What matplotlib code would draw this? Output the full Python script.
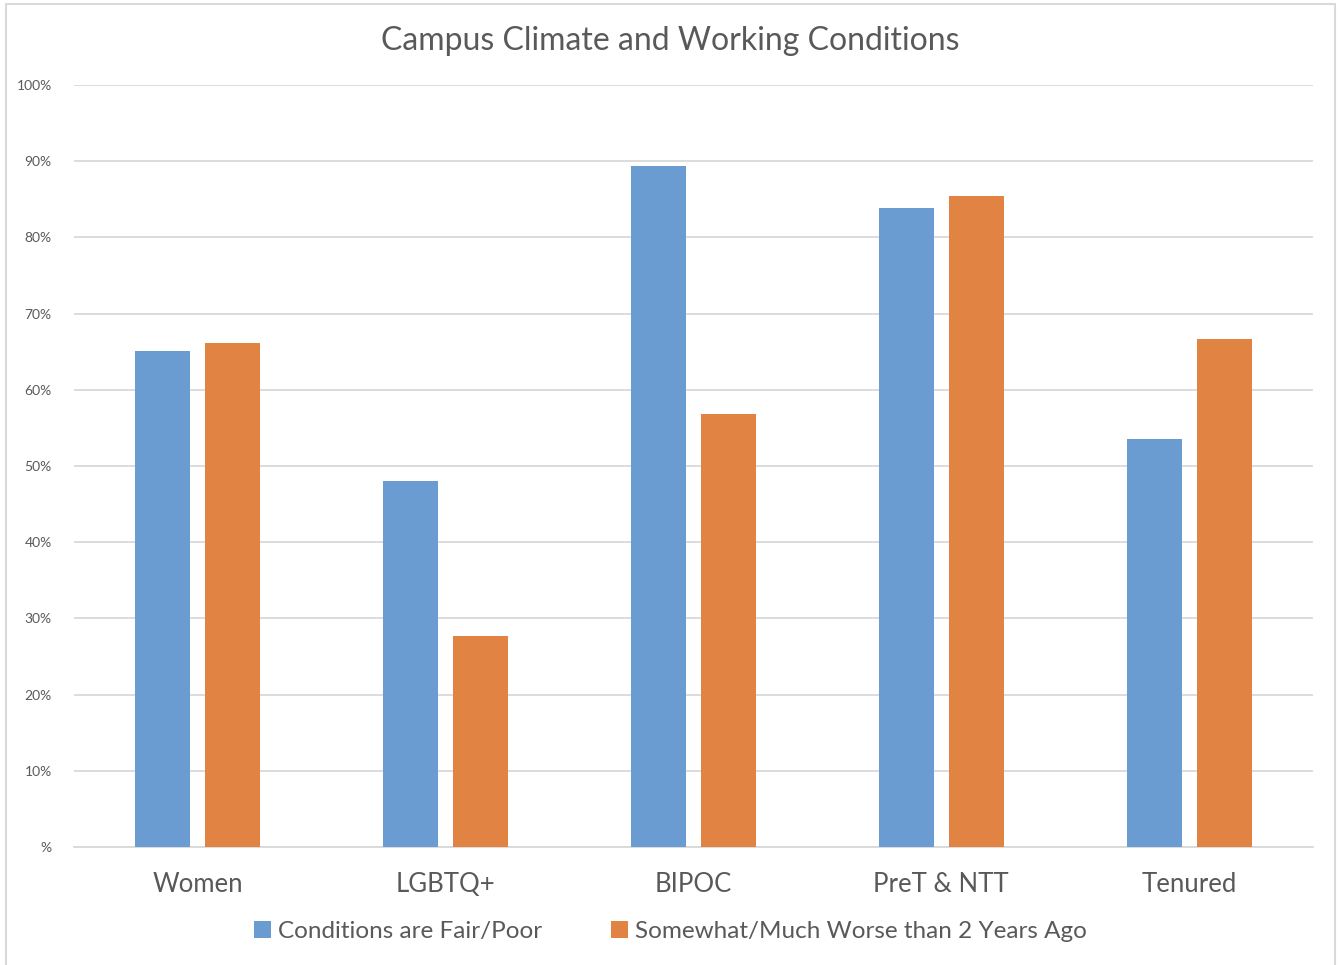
import numpy as np
import matplotlib.pyplot as plt
from matplotlib.patches import Rectangle

plt.rcParams['font.family'] = ['Lato', 'DejaVu Sans']

groups = ['Women', 'LGBTQ+', 'BIPOC', 'PreT & NTT', 'Tenured']
fair_poor = [65.1, 48.0, 89.4, 83.8, 53.5]
worse = [66.1, 27.7, 56.8, 85.4, 66.7]
series_names = ['Conditions are Fair/Poor', 'Somewhat/Much Worse than 2 Years Ago']
ytick_vals = list(range(0, 101, 10))
ytick_labels = ['%'] + ['%d%%' % v for v in ytick_vals[1:]]

blue = '#6a9bd1'
orange = '#e08343'
txt = '#595959'

fig = plt.figure(figsize=(13.41, 9.65), dpi=100)
ax = fig.add_axes([0.0552, 0.1223, 0.9239, 0.7896])

x = np.arange(len(groups))
w = 0.222
off = 0.141
ax.bar(x - off, fair_poor, w, color=blue, label=series_names[0], zorder=3)
ax.bar(x + off, worse, w, color=orange, label=series_names[1], zorder=3)

ax.set_xlim(-0.5, len(groups) - 0.5)
ax.set_ylim(0, 100)
ax.set_yticks(ytick_vals)
ax.set_yticklabels(ytick_labels, fontsize=10, color=txt)
ax.set_xticks(x)
ax.set_xticklabels(groups, fontsize=18.5, color=txt)
ax.tick_params(axis='both', length=0)
ax.tick_params(axis='y', pad=16)
ax.tick_params(axis='x', pad=18)
ax.grid(axis='y', color='#d9d9d9', linewidth=1.3, zorder=0)
for s in ['top', 'right', 'left']:
    ax.spines[s].set_visible(False)
ax.spines['bottom'].set_color('#d9d9d9')
ax.spines['bottom'].set_linewidth(1.3)

fig.text(0.5, 0.958, 'Campus Climate and Working Conditions', ha='center', va='center',
         fontsize=23, color=txt)

leg = fig.legend(loc='center', bbox_to_anchor=(0.5, 0.035), ncol=2, frameon=False,
                 fontsize=17.5, handlelength=0.7, handleheight=0.7, handletextpad=0.3,
                 columnspacing=2.8)
for t in leg.get_texts():
    t.set_color(txt)

# outer chart border
fig.patches.append(Rectangle((6 / 1341, -0.01), 1329 / 1341, 0.008 + (963 / 965),
                             transform=fig.transFigure, fill=False,
                             edgecolor='#d9d9d9', linewidth=1.5))

fig.savefig('out.png', dpi=100)
